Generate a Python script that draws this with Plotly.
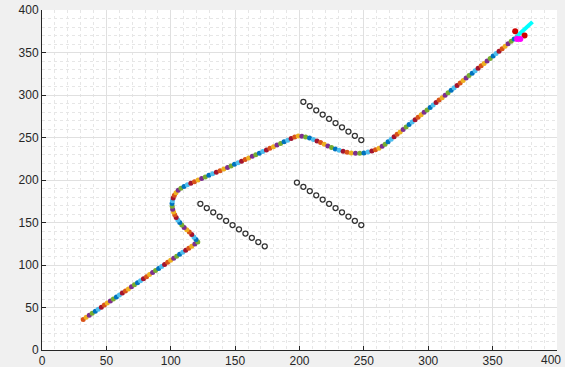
import plotly.graph_objects as go

# Planned path (dots)
path_x = [32.0,34.3,36.7,39.0,41.4,43.7,46.1,48.4,50.7,53.1,55.4,57.8,60.1,62.4,64.8,67.1,69.5,71.8,74.2,76.5,78.8,81.2,83.5,85.9,88.2,90.6,92.9,95.2,97.6,99.9,102.3,104.6,106.9,109.3,111.6,114.0,116.3,118.7,121.0,
          119.6,118.0,116.3,114.4,112.4,110.4,108.6,107.0,105.5,104.2,103.1,102.2,101.5,101.1,101.0,101.3,101.9,102.8,104.1,105.8,107.9,110.3,112.9,115.6,118.4,121.2,124.0,126.8,129.6,132.5,135.4,138.3,141.2,144.1,
          146.8,149.5,152.3,155.0,157.8,160.5,163.3,166.0,168.8,171.5,174.3,177.0,179.8,182.5,185.3,188.0,190.8,193.5,196.3,199.0,
          201.8,204.8,207.8,210.8,213.6,216.4,219.2,222.0,224.9,227.8,230.8,233.9,237.0,240.2,243.5,246.8,250.0,253.2,256.2,259.0,261.7,264.2,
          266.5,268.8,271.2,273.5,275.8,278.2,280.5,282.8,285.1,287.5,289.8,292.1,294.5,296.8,299.1,301.5,303.8,306.1,308.4,310.8,313.1,315.4,317.8,320.1,322.4,324.8,327.1,329.4,331.7,334.1,336.4,338.7,341.1,343.4,345.7,348.1,350.4,352.7,355.0,357.4,359.7,362.0,364.4,366.7,369.0]
path_y = [36.0,38.4,40.8,43.2,45.6,48.0,50.4,52.8,55.2,57.6,60.0,62.3,64.7,67.1,69.5,71.9,74.3,76.7,79.1,81.5,83.9,86.3,88.7,91.1,93.5,95.9,98.3,100.7,103.1,105.5,107.9,110.2,112.6,115.0,117.4,119.8,122.2,124.6,127.0,
          130.0,133.0,136.0,138.8,141.5,144.2,147.0,150.0,153.0,156.0,159.2,162.4,165.7,169.0,172.3,175.6,178.9,182.0,185.0,187.8,190.3,192.4,194.3,196.2,198.0,199.9,201.8,203.6,205.5,207.4,209.2,211.0,212.8,214.6,
          216.5,218.4,220.3,222.2,224.0,225.9,227.8,229.7,231.6,233.5,235.4,237.3,239.2,241.1,243.0,244.9,246.8,248.7,250.5,251.8,
          251.6,250.7,249.3,247.6,245.8,244.0,242.0,240.1,238.3,236.6,235.0,233.7,232.6,231.8,231.4,231.4,231.9,232.8,234.0,235.6,237.5,239.6,
          242.2,245.1,248.0,250.8,253.7,256.6,259.5,262.4,265.2,268.1,271.0,273.9,276.8,279.6,282.5,285.4,288.3,291.2,294.0,296.9,299.8,302.7,305.6,308.4,311.3,314.2,317.1,320.0,322.8,325.7,328.6,331.5,334.4,337.2,340.1,343.0,345.9,348.8,351.6,354.5,357.4,360.3,363.2,366.0,368.9]

# Obstacles (open circles)
obs1_x = [203, 208, 213, 218, 223, 228, 233, 238, 243, 248]
obs1_y = [292, 287, 282, 277, 272, 267, 262, 257, 252, 247]
obs2_x = [198, 203, 208, 213, 218, 223, 228, 233, 238, 243, 248]
obs2_y = [197, 192, 187, 182, 177, 172, 167, 162, 157, 152, 147]
obs3_x = [123, 128, 133, 138, 143, 148, 153, 158, 163, 168, 173]
obs3_y = [172, 167, 162, 157, 152, 147, 142, 137, 132, 127, 122]

# Goal region markers
goal_line_x = [369.5, 381.0]
goal_line_y = [370.0, 386.0]
red_x = [367.5, 374.8]
red_y = [375.0, 370.0]
mag_x = [369.0, 371.5]
mag_y = [366.0, 366.0]

tick_vals = [0, 50, 100, 150, 200, 250, 300, 350, 400]
tick_text = ["0", "50", "100", "150", "200", "250", "300", "350", "400"]

palette = ["#D95319", "#EDB120", "#7E2F8E", "#77AC30", "#0072BD", "#4DBEEE", "#A2142F"]
dot_colors = [palette[i % len(palette)] for i in range(len(path_x))]

fig = go.Figure()
for ox, oy in [(obs1_x, obs1_y), (obs2_x, obs2_y), (obs3_x, obs3_y)]:
    fig.add_trace(go.Scatter(x=ox, y=oy, mode="markers",
                             marker=dict(symbol="circle-open", size=5, color="#333333",
                                         line=dict(width=1.3, color="#333333"))))
fig.add_trace(go.Scatter(x=path_x, y=path_y, mode="markers",
                         marker=dict(symbol="circle", size=5, color=dot_colors, line=dict(width=0))))
fig.add_trace(go.Scatter(x=goal_line_x, y=goal_line_y, mode="lines",
                         line=dict(color="#00FFFF", width=4)))
fig.add_trace(go.Scatter(x=red_x, y=red_y, mode="markers",
                         marker=dict(symbol="circle", size=6, color="#D00000")))
fig.add_trace(go.Scatter(x=mag_x, y=mag_y, mode="markers",
                         marker=dict(symbol="circle", size=6, color="#FF00FF")))

tick_font = dict(family="Liberation Sans, Arial, sans-serif", size=12, color="#262626")
axis_common = dict(
    range=[0, 400], tickvals=tick_vals, ticktext=tick_text,
    showgrid=True, gridcolor="#e0e0e0", gridwidth=1,
    minor=dict(dtick=10, showgrid=True, gridcolor="#e6e6e6", griddash="dot", gridwidth=1),
    showline=True, linecolor="#262626", linewidth=1, mirror=False,
    ticks="inside", ticklen=4, tickcolor="#262626",
    zeroline=False, automargin=False,
    tickfont=tick_font,
)

fig.update_layout(
    width=565, height=367,
    margin=dict(l=42, r=8, t=10, b=17),
    paper_bgcolor="#f0f0f0", plot_bgcolor="white",
    showlegend=False,
    xaxis=dict(**axis_common),
    yaxis=dict(**axis_common),
)
# last x tick label sits at the right edge of the figure
fig.add_annotation(x=tick_vals[-1], y=0, xref="x", yref="paper", text=tick_text[-1],
                   showarrow=False, xanchor="right", yanchor="top", xshift=5, yshift=-2,
                   borderpad=0, font=tick_font)
fig.write_html(
    "out.html",
    config={"displayModeBar": False},
    post_script="document.body.style.margin='0';document.body.style.padding='0';"
                "document.body.style.background='#f0f0f0';document.body.style.overflow='hidden';",
)
